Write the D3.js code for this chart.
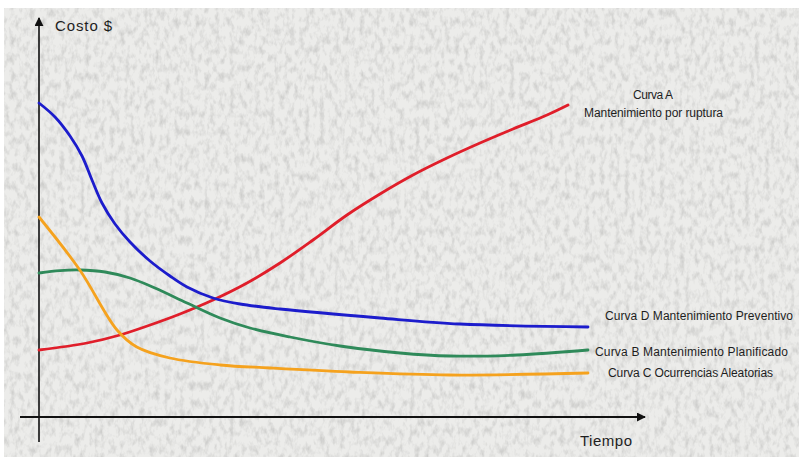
<!DOCTYPE html>
<html>
<head>
<meta charset="utf-8">
<script src="https://cdn.jsdelivr.net/npm/d3@7/dist/d3.min.js"></script>
<style>
  html, body { margin: 0; padding: 0; background: #fff; }
  svg { display: block; }
  text { font-family: "Liberation Sans", Arial, sans-serif; fill: #1e1e1e; }
</style>
</head>
<body>
<svg id="chart" width="799" height="457"></svg>
<script>
// Cost curves over time: [tiempo, costo] pairs (arbitrary units 0–100)
const curvaA = [[0,16.75],[8,18.5],[13.5,20.5],[19,23.25],[23.5,25.75],[29,29.25],[34.67,33.5],[40.17,38.5],[45.67,44.25],[51.33,50.5],[56.83,55.75],[62.33,60.5],[68,64.75],[73.5,68.5],[79,72],[84.67,75.5],[88.17,78]];
const curvaB = [[0,36],[3.5,36.6],[6.83,36.75],[11,36.25],[15.17,34.75],[19.33,32.25],[24.67,28.5],[30.17,24.75],[35.17,22.25],[41.83,20],[50.17,17.75],[60.17,16],[68.5,15.25],[79.67,15.5],[91.5,16.75]];
const curvaC = [[0,50],[6.8,36.75],[13,21.75],[16.3,17.5],[21.8,14.75],[30.2,13],[38.5,12.25],[51.8,11.25],[68.5,10.5],[91.5,11]];
const curvaD = [[0,78.5],[2.67,75],[5.17,70.25],[7.17,65.25],[8.83,59.25],[10.5,53.5],[12.67,48.25],[15.17,43.75],[18.5,39],[21.83,35.25],[24.67,32.5],[29,29.75],[33.5,28.25],[40.17,27],[56.83,24.75],[70.17,23.25],[91.5,22.5]];

const seriesNames = ["Curva A", "Curva B", "Curva C", "Curva D"];
const seriesColors = ["#e01e2a", "#2f8a5a", "#f5a21e", "#1c1ccc"];

const labelA = ["Curva A", "Mantenimiento por ruptura"];
const labelB = "Curva  B Mantenimiento  Planificado";
const labelC = "Curva C Ocurrencias Aleatorias";
const labelD = "Curva  D Mantenimiento  Preventivo";
const yTitle = "Costo $";
const xTitle = "Tiempo";

const svg = d3.select("#chart");
const W = 799, H = 457;

// stucco-like paper texture
const defs = svg.append("defs");
const f = defs.append("filter").attr("id", "stucco")
  .attr("x", 0).attr("y", 0).attr("width", "100%").attr("height", "100%");
f.append("feTurbulence").attr("type", "fractalNoise")
  .attr("baseFrequency", "0.2 0.11").attr("numOctaves", 3).attr("seed", 11).attr("result", "n");
f.append("feColorMatrix").attr("in", "n").attr("type", "matrix")
  .attr("values", "0 0 0 0 0.55  0 0 0 0 0.55  0 0 0 0 0.54  -2.2 0 0 0 1.25");
f.append("feComposite").attr("in2", "SourceGraphic").attr("operator", "in");

svg.append("rect").attr("width", W).attr("height", H).attr("fill", "#fff");
svg.append("rect").attr("x", 4).attr("y", 8).attr("width", W - 4).attr("height", H - 8)
  .attr("fill", "#ececea");
svg.append("rect").attr("x", 4).attr("y", 8).attr("width", W - 4).attr("height", H - 8)
  .attr("fill", "#ececea").attr("filter", "url(#stucco)").attr("opacity", 0.75);

// scales
const x = d3.scaleLinear().domain([0, 100]).range([39, 639]);
const y = d3.scaleLinear().domain([0, 100]).range([417, 17]);

// axes with arrowheads
defs.append("marker").attr("id", "arrow")
  .attr("viewBox", "0 0 10 10").attr("refX", 9).attr("refY", 5)
  .attr("markerWidth", 9).attr("markerHeight", 9).attr("markerUnits", "userSpaceOnUse")
  .attr("orient", "auto")
  .append("path").attr("d", "M0,0 L10,5 L0,10 Z").attr("fill", "#111");

svg.append("line")
  .attr("x1", x(0)).attr("y1", 442).attr("x2", x(0)).attr("y2", y(100) + 1)
  .attr("stroke", "#111").attr("stroke-width", 1.6).attr("marker-end", "url(#arrow)");
svg.append("line")
  .attr("x1", 20).attr("y1", y(0)).attr("x2", x(101)).attr("y2", y(0))
  .attr("stroke", "#111").attr("stroke-width", 2).attr("marker-end", "url(#arrow)");

svg.append("text").attr("x", 55).attr("y", 31).attr("font-size", 15)
  .attr("textLength", 57).text(yTitle);
svg.append("text").attr("x", 580).attr("y", 446).attr("font-size", 15)
  .attr("textLength", 52).text(xTitle);

// curves
const line = d3.line().x(d => x(d[0])).y(d => y(d[1])).curve(d3.curveCatmullRom.alpha(0.5));
const allSeries = [curvaA, curvaB, curvaC, curvaD];
svg.append("g").selectAll("path")
  .data(allSeries)
  .join("path")
  .attr("d", line)
  .attr("fill", "none")
  .attr("stroke", (d, i) => seriesColors[i])
  .attr("stroke-width", 2.8)
  .attr("stroke-linecap", "round");

// curve labels
const lab = svg.append("g").attr("font-size", 12);
lab.append("text").attr("x", 633).attr("y", 99).attr("textLength", 40).text(labelA[0]);
lab.append("text").attr("x", 584).attr("y", 117).attr("textLength", 139).text(labelA[1]);
lab.append("text").attr("x", 605).attr("y", 320).attr("textLength", 188).text(labelD);
lab.append("text").attr("x", 595).attr("y", 356).attr("textLength", 193).text(labelB);
lab.append("text").attr("x", 608).attr("y", 377).attr("textLength", 165).text(labelC);
</script>
</body>
</html>
